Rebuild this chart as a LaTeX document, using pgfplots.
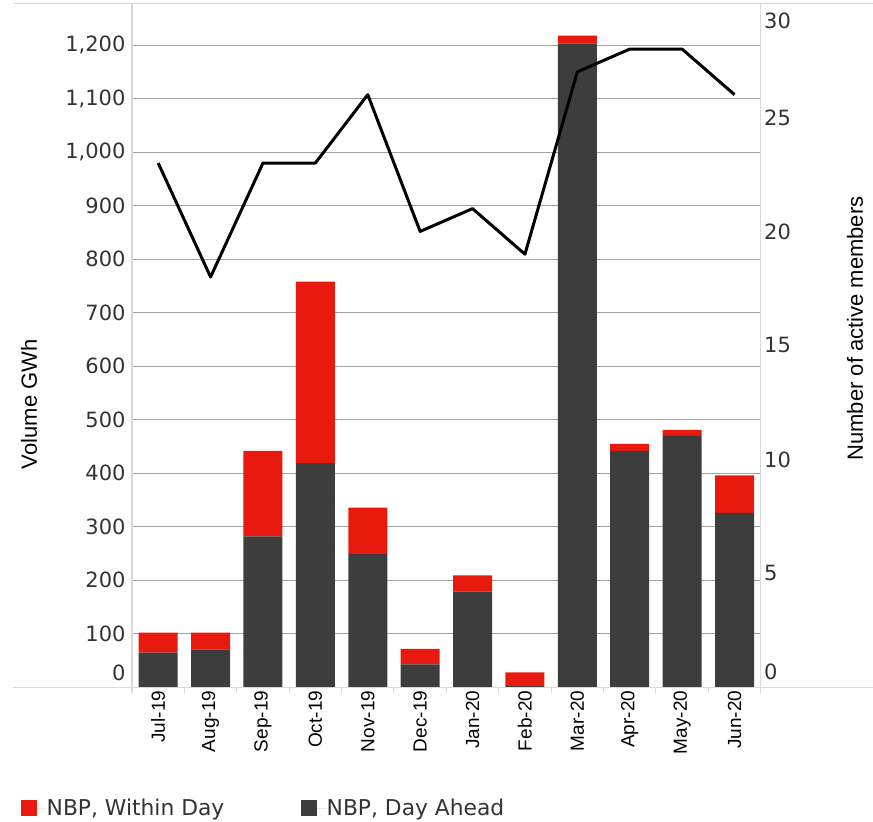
\documentclass[border=0pt]{standalone}
\usepackage{pgfplots}
\pgfplotsset{compat=1.18}
\usepackage{fontspec}
\setmainfont{DejaVu Sans}
\newfontfamily\arialf{Liberation Sans}
\definecolor{wdred}{HTML}{E8190F}
\definecolor{dagray}{HTML}{3D3D3D}
\definecolor{gridc}{HTML}{A0A0A0}
\definecolor{framec}{HTML}{D9D9D9}
\definecolor{txt}{HTML}{333333}

\pgfplotstableread{
x da wd
0 65 37
1 71 31
2 282 160
3 419 339
4 249 87
5 43 29
6 179 30
7 2 26
8 1203 15
9 442 13
10 470 11
11 326 70
}\volumes

\pgfplotstableread{
x m
0 23
1 18
2 23
3 23
4 26
5 20
6 21
7 19
8 27
9 28
10 28
11 26
}\members

\begin{document}
\begin{tikzpicture}
\begin{axis}[name=main,
  scale only axis, width=628.7bp, height=683.8bp,
  xmin=-0.5, xmax=11.5, ymin=0, ymax=1278,
  axis line style={draw=none},
  ybar stacked, bar width=39bp,
  xtick={0,...,11},
  xticklabels={Jul-19,Aug-19,Sep-19,Oct-19,Nov-19,Dec-19,Jan-20,Feb-20,Mar-20,Apr-20,May-20,Jun-20},
  xticklabel style={rotate=90, anchor=east, font=\arialf\fontsize{19bp}{19bp}\selectfont, text=black},
  major tick length=0bp,
  minor xtick={-0.5,0.5,...,11.5},
  minor x tick style={framec, line width=1bp},
  minor tick length=6bp,
  xtick pos=bottom, xtick align=outside,
  ytick={100,200,...,1200},
  extra y ticks={0}, extra y tick labels={\smash{\raisebox{7.3bp}{0}}},
  extra y tick style={grid=none},
  ymajorgrids, grid style={gridc, line width=1.2bp},
  ytick pos=left,
  yticklabel style={font=\fontsize{21bp}{21bp}\selectfont, text=txt, xshift=-3bp},
  /pgf/number format/1000 sep={,},
  /pgf/number format/assume math mode=true,
  ylabel={Volume GWh},
  ylabel style={font=\arialf\fontsize{22bp}{22bp}\selectfont, at={(axis description cs:-0.164,0.414)}, anchor=center},
  legend columns=2,
  legend style={at={(axis description cs:-0.177,-0.1638)}, anchor=north west, draw=none, fill=none,
    inner sep=0pt, outer sep=0pt, font=\fontsize{21.8bp}{21.8bp}\selectfont, text=txt,
    /tikz/every even column/.append style={column sep=0pt}, nodes={inner sep=0pt}},
  clip=false,
]
\addlegendimage{fill=wdred, draw=none, legend image code/.code={\fill (0bp,-8bp) rectangle (16bp,8bp); \path (0bp,0bp) -- (26bp,0bp);}}
\addlegendentry{\makebox[254bp][l]{NBP, Within Day}}
\addlegendimage{fill=dagray, draw=none, legend image code/.code={\fill (0bp,-8bp) rectangle (16bp,8bp); \path (0bp,0bp) -- (26bp,0bp);}}
\addlegendentry{NBP, Day Ahead}
\addplot[fill=dagray, draw=none, forget plot] table[x=x, y=da] {\volumes};
\addplot[fill=wdred, draw=none, forget plot] table[x=x, y=wd] {\volumes};
\end{axis}

\begin{axis}[
  scale only axis, width=628.7bp, height=683.8bp,
  xmin=-0.5, xmax=11.5, ymin=0, ymax=30,
  axis x line=none, axis y line*=right,
  axis line style={draw=none},
  major tick length=0bp,
  ytick={5,10,...,25},
  extra y ticks={0,30},
  extra y tick labels={\smash{\raisebox{8.3bp}{0}},\smash{\raisebox{-25.2bp}{30}}},
  yticklabel style={font=\fontsize{21bp}{21bp}\selectfont, text=txt},
  /pgf/number format/assume math mode=true,
  ylabel={Number of active members},
  ylabel style={font=\arialf\fontsize{22bp}{22bp}\selectfont, at={(axis description cs:1.150,0.5247)}, anchor=center},
  clip=false,
]
\addplot[black, line width=3bp, line join=round, mark=none] table[x=x, y=m] {\members};
\end{axis}

\draw[framec, line width=1.3bp] ([xshift=-119bp]main.north west) -- ([xshift=112.3bp]main.north east);
\draw[framec, line width=1.3bp] ([xshift=-119bp]main.south west) -- ([xshift=112.3bp]main.south east);
\draw[framec, line width=1.3bp] (main.north west) -- ([yshift=-6bp]main.south west);
\draw[framec, line width=1.3bp] (main.north east) -- ([yshift=-6bp]main.south east);

\pgfresetboundingbox
\path[use as bounding box] ([shift={(-132bp,-134.7bp)}]main.south west) rectangle ([shift={(112.3bp,3.5bp)}]main.north east);
\end{tikzpicture}
\end{document}
